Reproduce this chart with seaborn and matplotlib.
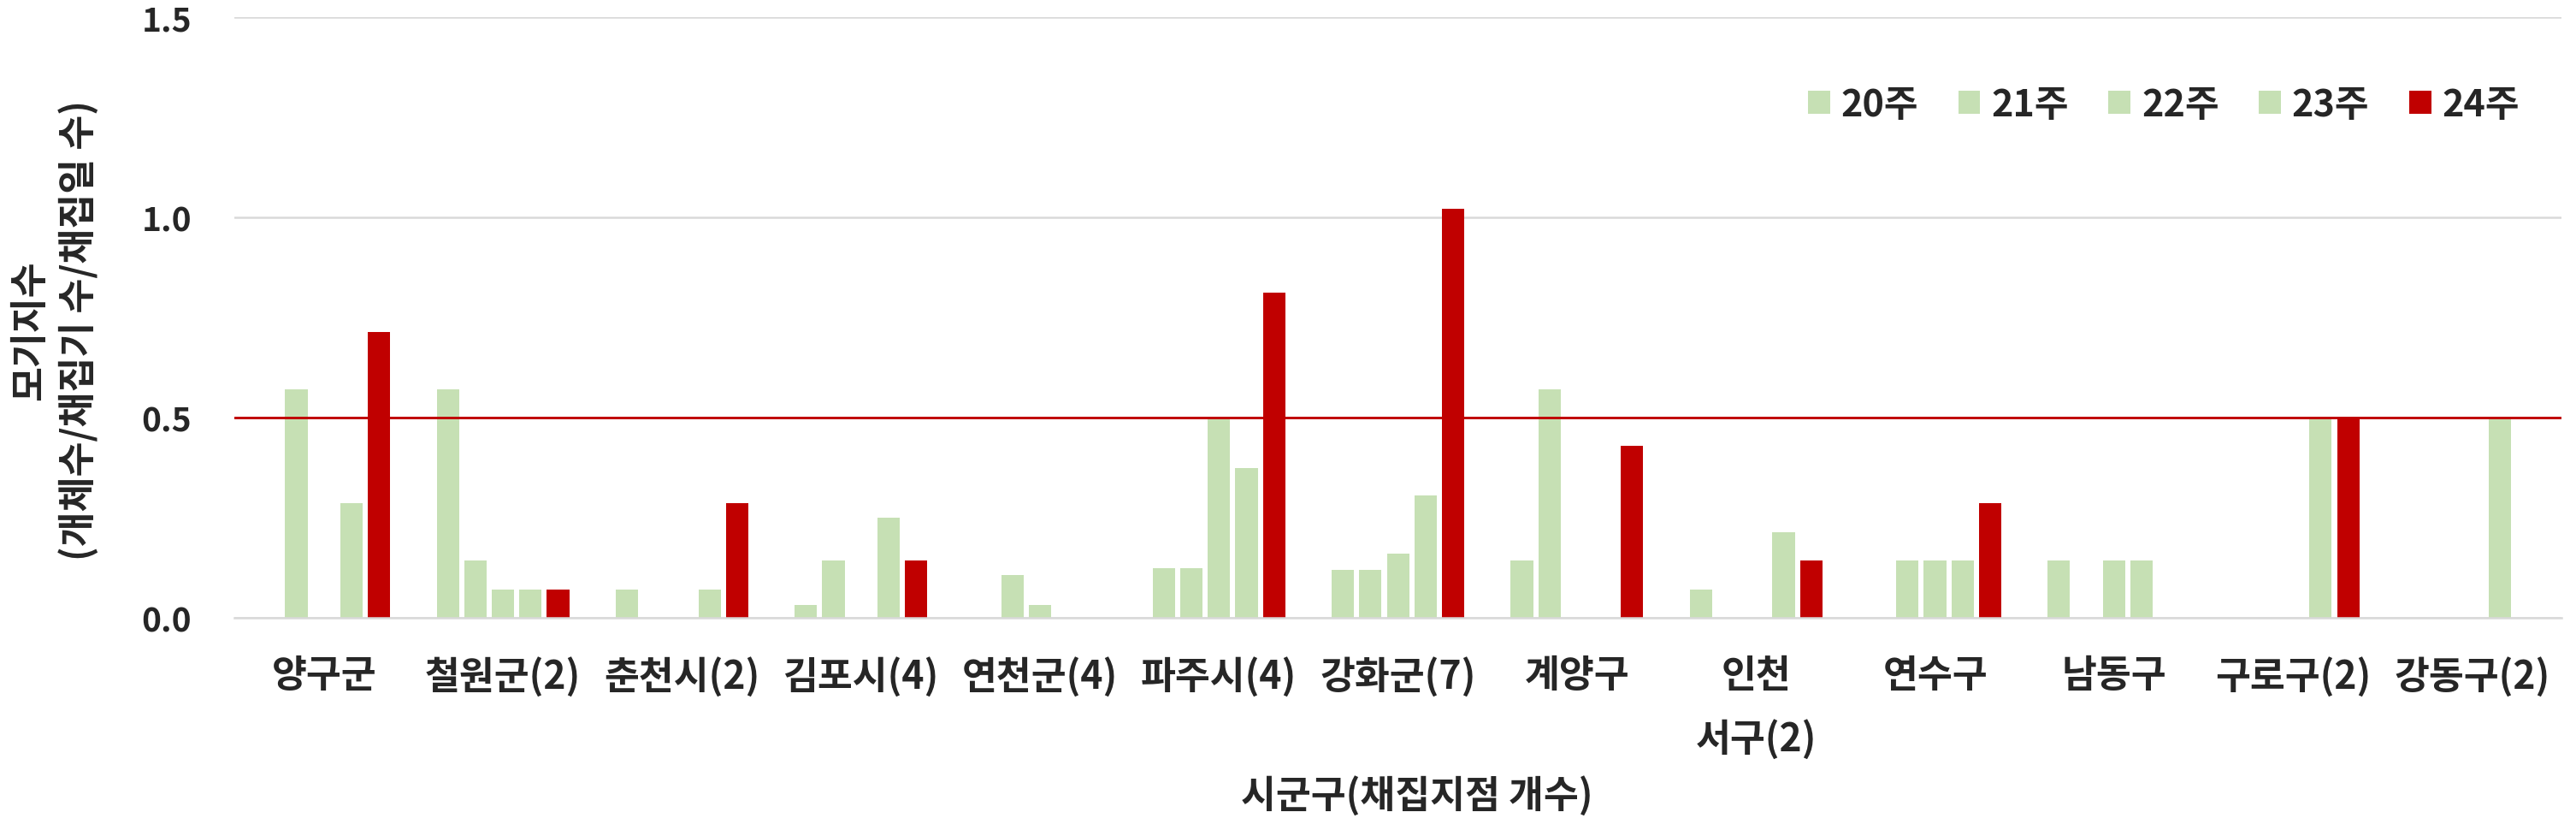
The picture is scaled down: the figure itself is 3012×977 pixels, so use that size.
import pandas as pd
import matplotlib
matplotlib.use("Agg")
import matplotlib.pyplot as plt
import seaborn as sns

regions = ['양구군', '철원군(2)', '춘천시(2)', '김포시(4)', '연천군(4)', '파주시(4)', '강화군(7)',
           '계양구', '인천\n서구(2)', '연수구', '남동구', '구로구(2)', '강동구(2)']
weeks = ['20주', '21주', '22주', '23주', '24주']

w20 = [0, 0.571, 0.071, 0.033, 0, 0.125, 0.12, 0.143, 0.071, 0, 0.143, 0, 0]
w21 = [0.571, 0.143, 0, 0.143, 0.106, 0.125, 0.12, 0.571, 0, 0.143, 0, 0, 0]
w22 = [0, 0.071, 0, 0, 0.033, 0.5, 0.161, 0, 0, 0.143, 0.143, 0, 0]
w23 = [0.286, 0.071, 0.071, 0.25, 0, 0.375, 0.305, 0, 0.214, 0.143, 0.143, 0.5, 0.5]
w24 = [0.714, 0.071, 0.286, 0.143, 0, 0.8125, 1.021, 0.429, 0.143, 0.286, 0, 0.5, 0]

green = '#C6E0B4'
red = '#C00000'

rows = []
for wk, vals in zip(weeks, [w20, w21, w22, w23, w24]):
    for reg, v in zip(regions, vals):
        rows.append({'region': reg, 'week': wk, 'value': v})
df = pd.DataFrame(rows)

sns.set_style('white')
plt.rcParams['font.family'] = ['Noto Sans CJK KR', 'DejaVu Sans']
plt.rcParams['font.weight'] = 'bold'

fig = plt.figure(figsize=(30.12, 9.78), dpi=100)
ax = fig.add_axes([0.0910, 0.2607, 0.9034, 0.7178])

sns.barplot(data=df, x='region', y='value', hue='week', order=regions, hue_order=weeks,
            palette=[green, green, green, green, red], saturation=1,
            width=0.77, gap=0.19, linewidth=0, errorbar=None, ax=ax)

ax.set_ylim(0, 1.5)
ax.set_xlim(-0.5, len(regions) - 0.5)
ax.set_yticks([0, 0.5, 1.0, 1.5])
ax.set_yticklabels(['0.0', '0.5', '1.0', '1.5'])
ax.yaxis.grid(True, color='#D9D9D9', linewidth=1.8, zorder=0)
ax.set_axisbelow(True)
for s in ['top', 'right', 'left']:
    ax.spines[s].set_visible(False)
ax.spines['bottom'].set_color('#D9D9D9')
ax.spines['bottom'].set_linewidth(1.8)
ax.tick_params(axis='both', length=0)
ax.tick_params(axis='x', labelsize=32, pad=32)
ax.tick_params(axis='y', labelsize=28, pad=36)
for lab in ax.get_xticklabels():
    lab.set_fontweight('bold')
    lab.set_linespacing(1.75)
for lab in ax.get_yticklabels():
    lab.set_fontweight('bold')

# 기준선 0.5
ax.axhline(0.5, color=red, linewidth=2.1, zorder=5)

ax.set_xlabel('시군구(채집지점 개수)', fontsize=32, fontweight='bold')
ax.xaxis.set_label_coords(0.508, -0.262)
ax.set_ylabel('모기지수\n(개체수/채집기 수/채집일 수)', fontsize=32, fontweight='bold',
              linespacing=1.3)
ax.yaxis.set_label_coords(-0.058, 0.48)

handles, labels = ax.get_legend_handles_labels()
ax.legend(handles, labels, ncol=5, loc='center right', bbox_to_anchor=(0.982, 0.855),
          frameon=False, prop={'size': 31, 'weight': 'bold'}, handlelength=0.6,
          handleheight=0.6, handletextpad=0.3, columnspacing=1.08, borderpad=0,
          borderaxespad=0)

fig.savefig('out.png', dpi=100, facecolor='white')
